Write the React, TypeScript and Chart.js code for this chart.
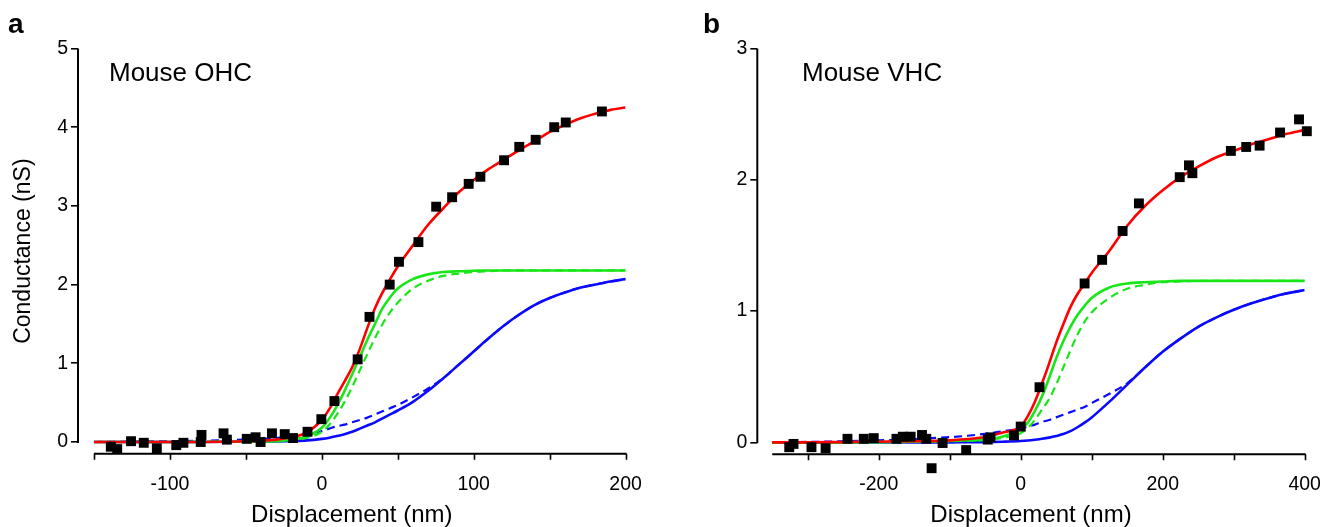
import { useEffect, useRef } from 'react'
import { Chart, registerables } from 'chart.js'

Chart.register(...registerables)

const FONT = '"Liberation Sans", Arial, Helvetica, sans-serif'
const RED = '#ff0000'
const GREEN = '#19e619'
const BLUE = '#0a0aff'

// ---- panel a: mouse OHC ----
const ohcPtsX = [-138.9, -134.7, -125.6, -117.2, -108.6, -95.8, -91.1, -79.7, -79.2, -64.7, -62.5, -49.4, -43.6, -40.3, -32.8, -24.4, -18.9, -9.4, -0.3, 8.3, 23.6, 31.4, 44.7, 50.8, 63.6, 75.3, 85.8, 96.7, 104.4, 120, 130, 140.8, 153, 160.6, 184.4]
const ohcPtsY = [-0.06, -0.09, 0.01, -0.01, -0.08, -0.04, -0.01, 0.0, 0.09, 0.11, 0.03, 0.04, 0.06, 0.0, 0.11, 0.1, 0.05, 0.13, 0.29, 0.52, 1.05, 1.59, 2.0, 2.29, 2.54, 2.99, 3.11, 3.28, 3.37, 3.58, 3.75, 3.84, 4.0, 4.06, 4.2]

const ohcFitX = [-150, -100, -50, -30, -20, -10, 0, 5, 10, 15, 20, 25, 30, 35, 40, 45, 50, 60, 70, 80, 90, 100, 110, 120, 130, 140, 150, 160, 170, 180, 190, 200]
const ohcRed = [0, 0, 0.01, 0.03, 0.06, 0.12, 0.28, 0.42, 0.6, 0.77, 0.95, 1.18, 1.45, 1.7, 1.9, 2.07, 2.23, 2.5, 2.76, 2.97, 3.17, 3.33, 3.47, 3.59, 3.71, 3.82, 3.94, 4.03, 4.11, 4.17, 4.22, 4.25]
const ohcGreen = [0, 0, 0.005, 0.01, 0.03, 0.07, 0.18, 0.3, 0.46, 0.65, 0.86, 1.08, 1.3, 1.5, 1.7, 1.84, 1.95, 2.07, 2.13, 2.16, 2.17, 2.175, 2.18, 2.18, 2.18, 2.18, 2.18, 2.18, 2.18, 2.18, 2.18, 2.18]
const ohcGreenDash = [0, 0, 0.004, 0.01, 0.02, 0.05, 0.13, 0.22, 0.35, 0.51, 0.7, 0.91, 1.12, 1.32, 1.5, 1.65, 1.77, 1.95, 2.05, 2.11, 2.14, 2.16, 2.17, 2.18, 2.18, 2.18, 2.18, 2.18, 2.18, 2.18, 2.18, 2.18]
const ohcBlue = [0, 0, 0.003, 0.008, 0.012, 0.02, 0.04, 0.055, 0.075, 0.1, 0.13, 0.17, 0.21, 0.25, 0.3, 0.35, 0.4, 0.51, 0.65, 0.81, 0.98, 1.15, 1.32, 1.48, 1.62, 1.74, 1.83, 1.9, 1.96, 2.0, 2.04, 2.07]
const ohcBlueDash = [0, 0.01, 0.03, 0.05, 0.07, 0.1, 0.14, 0.17, 0.2, 0.22, 0.25, 0.28, 0.31, 0.35, 0.39, 0.43, 0.47, 0.57, 0.68, 0.81, 0.98, 1.15, 1.32, 1.48, 1.62, 1.74, 1.83, 1.9, 1.96, 2.0, 2.04, 2.07]

const ohcXTicks = [-150, -100, -50, 0, 50, 100, 150, 200]
const ohcXLabels = ['', '-100', '', '0', '', '100', '', '200']
const ohcYTicks = [0, 1, 2, 3, 4, 5]

// ---- panel b: mouse VHC ----
const vhcPtsX = [-326, -320, -294.7, -274.8, -244, -221, -207, -175, -166, -155, -139, -133, -125.5, -110, -76.8, -46.4, -42.6, -9.5, 0, 26.5, 90, 114.7, 143.5, 166.5, 224, 237, 241.8, 296, 317.6, 336.5, 365.3, 392, 403]
const vhcPtsY = [-0.037, -0.012, -0.037, -0.045, 0.027, 0.027, 0.032, 0.027, 0.043, 0.043, 0.056, 0.027, -0.197, -0.005, -0.059, 0.021, 0.038, 0.053, 0.12, 0.42, 1.21, 1.39, 1.61, 1.82, 2.02, 2.11, 2.05, 2.22, 2.25, 2.26, 2.36, 2.46, 2.37]

const vhcFitX = [-350, -300, -250, -200, -150, -100, -75, -50, -25, 0, 10, 20, 30, 40, 50, 60, 70, 80, 90, 100, 125, 150, 175, 200, 225, 250, 275, 300, 325, 350, 375, 400]
const vhcRed = [0, 0, 0.002, 0.005, 0.008, 0.015, 0.025, 0.04, 0.075, 0.12, 0.2, 0.31, 0.45, 0.6, 0.76, 0.9, 1.03, 1.13, 1.21, 1.29, 1.46, 1.65, 1.8, 1.92, 2.02, 2.1, 2.17, 2.22, 2.27, 2.31, 2.35, 2.38]
const vhcGreen = [0, 0, 0, 0.002, 0.005, 0.01, 0.014, 0.02, 0.045, 0.1, 0.15, 0.24, 0.35, 0.49, 0.64, 0.77, 0.88, 0.97, 1.04, 1.1, 1.18, 1.21, 1.22, 1.225, 1.23, 1.23, 1.23, 1.23, 1.23, 1.23, 1.23, 1.23]
const vhcGreenDash = [0, 0, 0, 0.001, 0.003, 0.008, 0.012, 0.02, 0.035, 0.07, 0.11, 0.17, 0.25, 0.33, 0.44, 0.57, 0.7, 0.82, 0.92, 0.99, 1.1, 1.17, 1.2, 1.22, 1.225, 1.23, 1.23, 1.23, 1.23, 1.23, 1.23, 1.23]
const vhcBlue = [0, 0, 0, 0, 0, 0, 0.001, 0.002, 0.005, 0.01, 0.014, 0.02, 0.027, 0.036, 0.048, 0.063, 0.085, 0.115, 0.15, 0.19, 0.31, 0.44, 0.57, 0.69, 0.79, 0.88, 0.95, 1.01, 1.06, 1.1, 1.135, 1.16]
const vhcBlueDash = [0, 0.003, 0.008, 0.015, 0.025, 0.04, 0.05, 0.065, 0.085, 0.105, 0.12, 0.135, 0.155, 0.17, 0.19, 0.21, 0.23, 0.25, 0.27, 0.3, 0.37, 0.45, 0.57, 0.69, 0.79, 0.88, 0.95, 1.01, 1.06, 1.1, 1.135, 1.16]

const vhcXTicks = [-300, -200, -100, 0, 100, 200, 300, 400]
const vhcXLabels = ['', '-200', '', '0', '', '200', '', '400']
const vhcYTicks = [0, 1, 2, 3]

const zip = (xs: number[], ys: number[]) => xs.map((x, i) => ({ x, y: ys[i] }))

// axis spines + x tick marks, panel letter and cell label
const decor = {
  id: 'decor',
  afterDraw(chart: any, _args: any, o: any) {
    const { ctx, chartArea, scales } = chart
    const x = scales.x, y = scales.y
    const spineY = y.getPixelForValue(o.ySpine)
    ctx.save()
    ctx.strokeStyle = '#000'
    ctx.lineWidth = 2
    ctx.beginPath()
    ctx.moveTo(chartArea.left, y.getPixelForValue(o.yTop))
    ctx.lineTo(chartArea.left, y.getPixelForValue(0) + 1)
    ctx.moveTo(x.getPixelForValue(o.xFrom), spineY)
    ctx.lineTo(x.getPixelForValue(o.xTo) + 1, spineY)
    ctx.stroke()
    ctx.lineWidth = 1.6
    ctx.beginPath()
    o.xTicks.forEach((v: number) => {
      const px = Math.round(x.getPixelForValue(v)) + 0.5
      ctx.moveTo(px, spineY)
      ctx.lineTo(px, spineY + 6)
    })
    ctx.stroke()
    ctx.fillStyle = '#000'
    ctx.textBaseline = 'alphabetic'
    ctx.font = `bold 28px ${FONT}`
    ctx.fillText(o.letter, o.letterX, 33)
    ctx.font = `26px ${FONT}`
    ctx.fillText(o.note, o.noteX, 81)
    ctx.restore()
  },
}

interface PanelProps {
  width: number
  yAxisW: number
  xAxisH: number
  padRight: number
  xMin: number; xMax: number; yMin: number; yMax: number
  ySpine: number
  xLabelPad: number
  xSpan: [number, number]
  pts: [number[], number[]]
  fitX: number[]
  red: number[]; green: number[]; greenDash: number[]; blue: number[]; blueDash: number[]
  xTicks: number[]; xLabels: string[]; yTicks: number[]
  yTitle?: string
  letter: string; letterX: number; note: string; noteX: number
}

function Panel(p: PanelProps) {
  const canvasRef = useRef<HTMLCanvasElement>(null)

  useEffect(() => {
    if (!canvasRef.current) return
    const line = (data: number[], color: string, order: number, dash: number[] = []) => ({
      data: zip(p.fitX, data), borderColor: color, borderWidth: dash.length ? 2.2 : 2.6,
      borderDash: dash, pointRadius: 0, cubicInterpolationMode: 'monotone' as const, order, fill: false,
    })
    const chart = new Chart(canvasRef.current, {
      type: 'line',
      data: {
        datasets: [
          {
            data: zip(p.pts[0], p.pts[1]), showLine: false, pointStyle: 'rect', pointRadius: 7,
            pointBackgroundColor: '#000', pointBorderWidth: 0, order: 0, clip: false,
          } as any,
          line(p.red, RED, 1),
          line(p.green, GREEN, 2),
          line(p.greenDash, GREEN, 3, [8, 5]),
          line(p.blue, BLUE, 4),
          line(p.blueDash, BLUE, 5, [8, 5]),
        ],
      },
      options: {
        responsive: false,
        animation: false,
        layout: { padding: { left: 0, top: 48.5, right: p.padRight, bottom: 0 } },
        plugins: {
          legend: { display: false },
          tooltip: { enabled: false },
          decor: {
            xFrom: p.xSpan[0], xTo: p.xSpan[1], yTop: p.yMax, ySpine: p.ySpine, xTicks: p.xTicks,
            letter: p.letter, letterX: p.letterX, note: p.note, noteX: p.noteX,
          },
        } as any,
        scales: {
          x: {
            type: 'linear', min: p.xMin, max: p.xMax,
            afterBuildTicks: (s: any) => { s.ticks = p.xTicks.map(v => ({ value: v })) },
            afterFit: (s: any) => { s.height = p.xAxisH },
            ticks: {
              autoSkip: false, maxRotation: 0, padding: p.xLabelPad, color: '#000',
              font: { family: FONT, size: 19.5 },
              callback: (v: any) => p.xLabels[p.xTicks.indexOf(Number(v))] ?? '',
            },
            grid: { display: false },
            border: { display: false },
            title: { display: true, text: 'Displacement (nm)', color: '#000', font: { family: FONT, size: 24, lineHeight: 1 }, padding: { top: 0, bottom: 0 } },
          },
          y: {
            type: 'linear', min: p.yMin, max: p.yMax,
            afterBuildTicks: (s: any) => { s.ticks = p.yTicks.map(v => ({ value: v })) },
            afterFit: (s: any) => { s.width = p.yAxisW },
            ticks: { autoSkip: false, padding: 3, color: '#000', font: { family: FONT, size: 19.5 } },
            grid: { display: true, drawOnChartArea: false, drawTicks: true, tickLength: 7, color: '#000', lineWidth: 1.6 },
            border: { display: false },
            title: { display: !!p.yTitle, text: p.yTitle ?? '', color: '#000', font: { family: FONT, size: 23, lineHeight: 1 }, padding: { top: 12, bottom: 0 } },
          },
        },
      },
      plugins: [decor as any],
    })
    return () => chart.destroy()
  }, [])

  return <canvas ref={canvasRef} width={p.width} height={527} style={{ display: 'block' }} />
}

export default function App() {
  return (
    <div style={{ position: 'fixed', left: 0, top: 0, width: 1333, height: 527, background: '#fff', display: 'flex' }}>
      <Panel
        width={666} yAxisW={78} padRight={40.4} xAxisH={527 - 453.8} xLabelPad={11}
        xMin={-160.5} xMax={200} yMin={-0.15} yMax={5} ySpine={-0.15} xSpan={[-150, 200]}
        pts={[ohcPtsX, ohcPtsY]} fitX={ohcFitX}
        red={ohcRed} green={ohcGreen} greenDash={ohcGreenDash} blue={ohcBlue} blueDash={ohcBlueDash}
        xTicks={ohcXTicks} xLabels={ohcXLabels} yTicks={ohcYTicks}
        yTitle="Conductance (nS)" letter="a" letterX={8} note="Mouse OHC" noteX={109}
      />
      <Panel
        width={667} yAxisW={91.3} padRight={28.3} xAxisH={527 - 464} xLabelPad={1}
        xMin={-371} xMax={400} yMin={-0.165} yMax={3} ySpine={-0.0914} xSpan={[-350, 400]}
        pts={[vhcPtsX, vhcPtsY]} fitX={vhcFitX}
        red={vhcRed} green={vhcGreen} greenDash={vhcGreenDash} blue={vhcBlue} blueDash={vhcBlueDash}
        xTicks={vhcXTicks} xLabels={vhcXLabels} yTicks={vhcYTicks}
        letter="b" letterX={37} note="Mouse VHC" noteX={136}
      />
    </div>
  )
}
